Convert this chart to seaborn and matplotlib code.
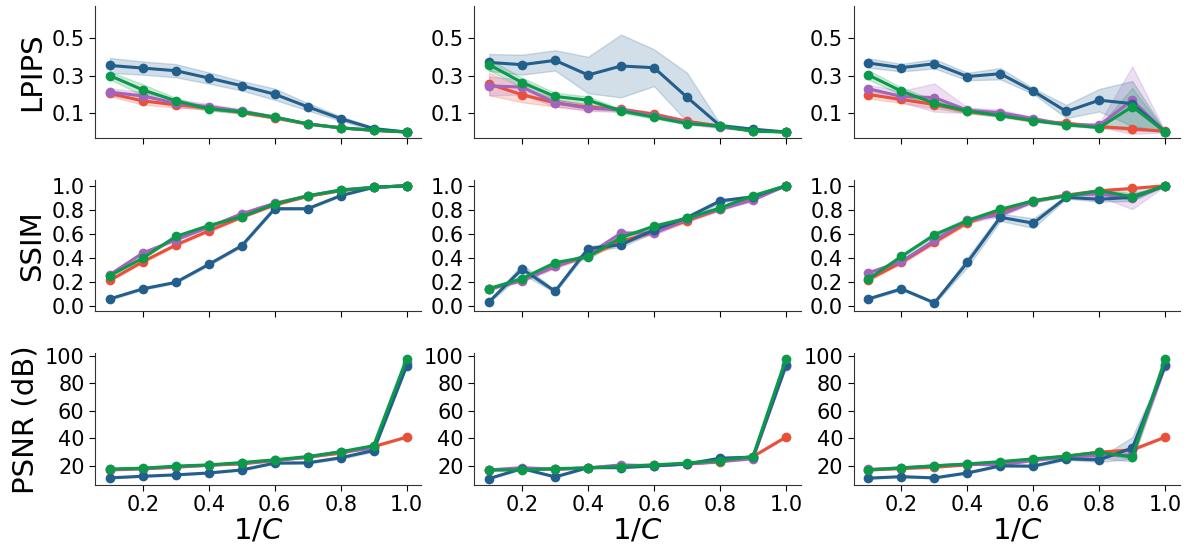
import numpy as np
import pandas as pd
import matplotlib
matplotlib.use("Agg")
import matplotlib.pyplot as plt
import seaborn as sns

# x values: 1/C
inv_c = [0.1, 0.2, 0.3, 0.4, 0.5, 0.6, 0.7, 0.8, 0.9, 1.0]

methods = ["red", "purple", "blue", "green"]
colors = {"red": "#e8503a", "purple": "#a463bd", "blue": "#235f8c", "green": "#0b9a4a"}

# ---- LPIPS, column 1 ----
lpips_1_red = [0.205, 0.165, 0.145, 0.128, 0.104, 0.075, 0.043, 0.022, 0.009, 0.0]
lpips_1_purple = [0.212, 0.192, 0.153, 0.135, 0.111, 0.079, 0.043, 0.022, 0.009, 0.0]
lpips_1_blue = [0.354, 0.340, 0.326, 0.287, 0.246, 0.201, 0.134, 0.071, 0.018, 0.0]
lpips_1_green = [0.300, 0.224, 0.166, 0.123, 0.107, 0.079, 0.043, 0.022, 0.009, 0.0]
lpips_1_red_sd = [0.015, 0.02, 0.015, 0.01, 0.008, 0.006, 0.004, 0.003, 0.002, 0.001]
lpips_1_purple_sd = [0.02, 0.02, 0.02, 0.015, 0.01, 0.008, 0.005, 0.003, 0.002, 0.001]
lpips_1_blue_sd = [0.04, 0.035, 0.035, 0.03, 0.025, 0.03, 0.02, 0.012, 0.008, 0.003]
lpips_1_green_sd = [0.02, 0.03, 0.015, 0.01, 0.008, 0.006, 0.004, 0.003, 0.002, 0.001]

# ---- LPIPS, column 2 ----
lpips_2_red = [0.255, 0.198, 0.155, 0.132, 0.121, 0.095, 0.057, 0.032, 0.007, 0.0]
lpips_2_purple = [0.245, 0.239, 0.155, 0.127, 0.118, 0.086, 0.050, 0.027, 0.007, 0.0]
lpips_2_blue = [0.370, 0.358, 0.381, 0.303, 0.351, 0.342, 0.185, 0.034, 0.015, 0.0]
lpips_2_green = [0.358, 0.263, 0.189, 0.169, 0.112, 0.079, 0.045, 0.032, 0.004, 0.0]
lpips_2_red_sd = [0.06, 0.04, 0.02, 0.015, 0.01, 0.008, 0.006, 0.004, 0.002, 0.001]
lpips_2_purple_sd = [0.05, 0.04, 0.02, 0.015, 0.012, 0.01, 0.01, 0.008, 0.003, 0.001]
lpips_2_blue_sd = [0.045, 0.053, 0.054, 0.097, 0.167, 0.098, 0.13, 0.01, 0.005, 0.001]
lpips_2_green_sd = [0.03, 0.025, 0.02, 0.02, 0.01, 0.008, 0.005, 0.004, 0.002, 0.001]

# ---- LPIPS, column 3 ----
lpips_3_red = [0.199, 0.173, 0.146, 0.109, 0.089, 0.059, 0.047, 0.029, 0.016, 0.004]
lpips_3_purple = [0.230, 0.189, 0.183, 0.116, 0.103, 0.071, 0.038, 0.036, 0.169, 0.0]
lpips_3_blue = [0.367, 0.342, 0.363, 0.295, 0.310, 0.217, 0.109, 0.169, 0.151, 0.0]
lpips_3_green = [0.303, 0.217, 0.153, 0.112, 0.087, 0.061, 0.039, 0.023, 0.135, 0.0]
lpips_3_red_sd = [0.02, 0.02, 0.02, 0.01, 0.008, 0.006, 0.005, 0.005, 0.01, 0.002]
lpips_3_purple_sd = [0.02, 0.03, 0.075, 0.015, 0.015, 0.01, 0.008, 0.01, 0.18, 0.002]
lpips_3_blue_sd = [0.025, 0.02, 0.025, 0.02, 0.03, 0.015, 0.035, 0.06, 0.12, 0.003]
lpips_3_green_sd = [0.025, 0.02, 0.015, 0.01, 0.008, 0.006, 0.005, 0.006, 0.1, 0.002]

# ---- SSIM, column 1 ----
ssim_1_red = [0.217, 0.371, 0.509, 0.627, 0.739, 0.841, 0.912, 0.959, 0.987, 1.0]
ssim_1_purple = [0.264, 0.443, 0.552, 0.657, 0.769, 0.855, 0.915, 0.967, 0.987, 1.0]
ssim_1_blue = [0.063, 0.146, 0.200, 0.349, 0.503, 0.810, 0.810, 0.918, 0.987, 1.0]
ssim_1_green = [0.256, 0.401, 0.580, 0.670, 0.744, 0.849, 0.918, 0.962, 0.987, 1.0]
ssim_1_red_sd = [0.01, 0.01, 0.01, 0.01, 0.008, 0.006, 0.005, 0.003, 0.002, 0.0]
ssim_1_purple_sd = [0.01, 0.01, 0.01, 0.01, 0.008, 0.006, 0.005, 0.003, 0.002, 0.0]
ssim_1_blue_sd = [0.008, 0.008, 0.008, 0.01, 0.01, 0.01, 0.008, 0.006, 0.003, 0.0]
ssim_1_green_sd = [0.01, 0.01, 0.01, 0.01, 0.008, 0.006, 0.005, 0.003, 0.002, 0.0]

# ---- SSIM, column 2 ----
ssim_2_red = [0.145, 0.220, 0.332, 0.420, 0.540, 0.615, 0.710, 0.805, 0.895, 1.0]
ssim_2_purple = [0.148, 0.214, 0.332, 0.429, 0.608, 0.608, 0.723, 0.805, 0.882, 1.0]
ssim_2_blue = [0.039, 0.311, 0.126, 0.480, 0.511, 0.635, 0.736, 0.874, 0.909, 1.0]
ssim_2_green = [0.148, 0.231, 0.363, 0.412, 0.571, 0.665, 0.731, 0.816, 0.918, 1.0]
ssim_2_red_sd = [0.01, 0.01, 0.01, 0.015, 0.015, 0.015, 0.012, 0.01, 0.008, 0.0]
ssim_2_purple_sd = [0.01, 0.01, 0.015, 0.015, 0.015, 0.015, 0.012, 0.01, 0.008, 0.0]
ssim_2_blue_sd = [0.008, 0.04, 0.012, 0.02, 0.02, 0.02, 0.02, 0.015, 0.01, 0.0]
ssim_2_green_sd = [0.01, 0.01, 0.01, 0.015, 0.015, 0.015, 0.012, 0.01, 0.008, 0.0]

# ---- SSIM, column 3 ----
ssim_3_red = [0.223, 0.365, 0.533, 0.695, 0.786, 0.876, 0.923, 0.959, 0.978, 1.0]
ssim_3_purple = [0.278, 0.373, 0.547, 0.717, 0.758, 0.868, 0.923, 0.932, 0.896, 1.0]
ssim_3_blue = [0.063, 0.146, 0.030, 0.365, 0.739, 0.690, 0.904, 0.888, 0.904, 1.0]
ssim_3_green = [0.228, 0.415, 0.594, 0.711, 0.805, 0.876, 0.915, 0.959, 0.909, 1.0]
ssim_3_red_sd = [0.01, 0.01, 0.015, 0.015, 0.01, 0.008, 0.006, 0.008, 0.008, 0.0]
ssim_3_purple_sd = [0.015, 0.015, 0.02, 0.02, 0.015, 0.01, 0.01, 0.02, 0.09, 0.0]
ssim_3_blue_sd = [0.008, 0.01, 0.008, 0.04, 0.03, 0.04, 0.01, 0.02, 0.03, 0.0]
ssim_3_green_sd = [0.01, 0.01, 0.015, 0.02, 0.01, 0.008, 0.006, 0.008, 0.03, 0.0]

# ---- PSNR (dB), column 1 ----
psnr_1_red = [16.8, 17.6, 18.8, 20.3, 21.2, 23.7, 26.2, 29.1, 33.9, 40.8]
psnr_1_purple = [17.2, 17.8, 19.2, 20.2, 21.8, 23.9, 26.0, 30.2, 32.5, 95.0]
psnr_1_blue = [11.0, 12.2, 13.2, 14.6, 16.8, 21.8, 22.0, 25.7, 31.0, 92.7]
psnr_1_green = [17.4, 18.1, 19.6, 20.5, 22.2, 24.2, 26.6, 30.1, 34.5, 98.1]
psnr_1_red_sd = [0.4, 0.4, 0.4, 0.4, 0.4, 0.5, 0.5, 0.6, 0.8, 0.5]
psnr_1_purple_sd = [0.4, 0.4, 0.4, 0.4, 0.4, 0.5, 0.5, 0.6, 0.8, 1.0]
psnr_1_blue_sd = [0.4, 0.4, 0.4, 0.5, 0.5, 0.6, 0.6, 0.8, 1.0, 1.0]
psnr_1_green_sd = [0.4, 0.4, 0.4, 0.4, 0.4, 0.5, 0.5, 0.6, 0.8, 0.5]

# ---- PSNR (dB), column 2 ----
psnr_2_red = [16.8, 17.3, 17.3, 18.3, 19.8, 20.3, 21.2, 22.7, 26.6, 40.8]
psnr_2_purple = [16.8, 18.5, 17.3, 18.3, 20.5, 19.8, 21.2, 23.0, 25.0, 93.0]
psnr_2_blue = [10.5, 17.8, 11.7, 18.5, 18.5, 19.8, 21.2, 25.4, 26.2, 93.2]
psnr_2_green = [16.8, 16.8, 17.8, 18.3, 19.3, 20.5, 21.8, 23.7, 26.6, 98.1]
psnr_2_red_sd = [0.4, 0.4, 0.4, 0.4, 0.4, 0.5, 0.5, 0.6, 0.6, 0.5]
psnr_2_purple_sd = [0.4, 0.4, 0.4, 0.4, 0.4, 0.5, 0.5, 0.6, 0.6, 1.0]
psnr_2_blue_sd = [0.4, 0.6, 0.4, 0.5, 0.5, 0.5, 0.5, 0.7, 0.7, 1.0]
psnr_2_green_sd = [0.4, 0.4, 0.4, 0.4, 0.4, 0.5, 0.5, 0.6, 0.6, 0.5]

# ---- PSNR (dB), column 3 ----
psnr_3_red = [16.8, 17.8, 18.8, 20.5, 22.2, 24.2, 26.9, 29.8, 31.5, 40.8]
psnr_3_purple = [17.2, 18.3, 19.8, 21.0, 20.5, 23.7, 26.2, 27.3, 27.8, 93.0]
psnr_3_blue = [10.8, 11.9, 11.0, 14.6, 19.8, 19.6, 24.9, 24.2, 32.8, 93.2]
psnr_3_green = [16.8, 18.3, 19.8, 21.2, 22.9, 24.9, 26.9, 29.8, 26.2, 98.1]
psnr_3_red_sd = [0.4, 0.4, 0.4, 0.4, 0.5, 0.5, 0.6, 0.8, 1.0, 0.5]
psnr_3_purple_sd = [0.4, 0.4, 0.4, 0.5, 0.5, 0.5, 0.6, 1.5, 5.0, 1.0]
psnr_3_blue_sd = [0.4, 0.4, 0.4, 0.5, 0.6, 0.6, 0.8, 1.5, 8.0, 1.0]
psnr_3_green_sd = [0.4, 0.4, 0.4, 0.4, 0.5, 0.5, 0.6, 0.8, 1.5, 0.5]

row_labels = ["LPIPS", "SSIM", "PSNR (dB)"]
row_keys = ["lpips", "ssim", "psnr"]
row_ylims = [(-0.03, 0.67), (-0.04, 1.05), (5.8, 102.0)]
row_yticks = [[0.1, 0.3, 0.5], [0.0, 0.2, 0.4, 0.6, 0.8, 1.0], [20, 40, 60, 80, 100]]
row_fmt = ["{:.1f}", "{:.1f}", "{:.0f}"]


def panel_frame(metric, col):
    # two samples per point (mean -/+ spread), the band is their min..max range
    rows = []
    g = globals()
    for m in methods:
        mean = np.array(g[f"{metric}_{col}_{m}"])
        sd = np.array(g[f"{metric}_{col}_{m}_sd"])
        for x, lo, hi in zip(inv_c, mean - sd, mean + sd):
            rows.append({"x": x, "value": lo, "method": m})
            rows.append({"x": x, "value": hi, "method": m})
    return pd.DataFrame(rows)


if __name__ == "__main__":
    sns.set_style("ticks")
    plt.rcParams.update({"font.family": "DejaVu Sans",
                         "text.color": "black", "axes.labelcolor": "black",
                         "xtick.color": "black", "ytick.color": "black",
                         "axes.edgecolor": "#333333"})
    fig, axes = plt.subplots(3, 3, figsize=(11.92, 5.49), dpi=100, sharex="col")
    fig.subplots_adjust(left=0.0797, right=0.99, bottom=0.1166, top=0.989,
                        wspace=0.162, hspace=0.32)

    for r, metric in enumerate(row_keys):
        for c in range(3):
            ax = axes[r, c]
            df = panel_frame(metric, c + 1)
            sns.lineplot(data=df, x="x", y="value", hue="method", hue_order=methods,
                         palette=colors, marker="o", markersize=7, markeredgewidth=0,
                         linewidth=2.2, errorbar=("pi", 100), err_kws={"alpha": 0.2},
                         legend=False, ax=ax)
            ax.set_ylim(*row_ylims[r])
            ax.set_yticks(row_yticks[r])
            ax.set_yticklabels([row_fmt[r].format(v) for v in row_yticks[r]])
            ax.set_xticks([0.2, 0.4, 0.6, 0.8, 1.0])
            ax.tick_params(labelsize=15, length=4)
            ax.set_ylabel(row_labels[r] if c == 0 else "", fontsize=21)
            ax.set_xlabel("$1/C$" if r == 2 else "", fontsize=21, labelpad=1)
            sns.despine(ax=ax)

    plt.savefig("out.png", dpi=100)
    plt.close()
